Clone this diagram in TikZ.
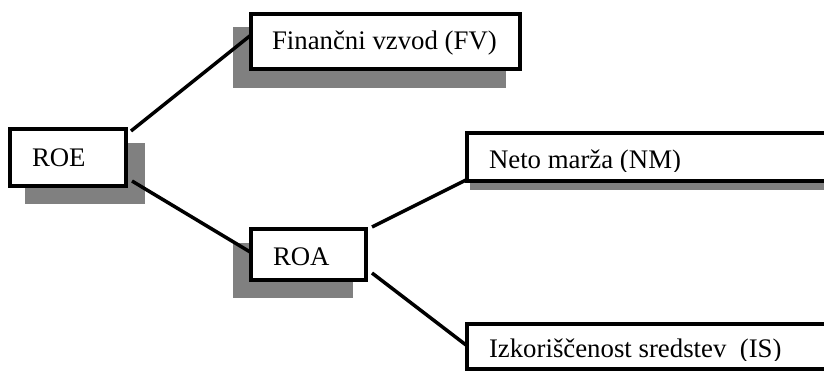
\documentclass[tikz,border=0pt]{standalone}
\usepackage{fontspec}
\setmainfont{Liberation Serif}
\usetikzlibrary{calc}
\definecolor{shadowgray}{RGB}{128,128,128}
\begin{document}
\begin{tikzpicture}[x=1pt,y=-1pt,
  box/.style={rectangle, draw=black, fill=white, line width=4.5pt, inner sep=0pt, outer sep=0pt},
  lbl/.style={anchor=base west, inner sep=0pt, outer sep=0pt, font=\fontsize{26.8}{30}\selectfont},
  link/.style={draw=black, line width=3.5pt},
  shadowbox/.style={fill=shadowgray}]
\clip (0,0) rectangle (824,372);
\fill[white] (0,0) rectangle (824,372);
% shadows
\fill[shadowbox] (233,27) rectangle (506,88);
\fill[shadowbox] (25,143) rectangle (145,204);
\fill[shadowbox] (233,243) rectangle (353,298);
\fill[shadowbox] (470,140) rectangle (860,190);
% boxes
\node[box, minimum width=269pt, minimum height=55pt] (fv) at (385.5,41.5) {};
\node[box, minimum width=116pt, minimum height=57pt] (roe) at (68,157.5) {};
\node[box, minimum width=115pt, minimum height=51pt] (roa) at (308.5,254.5) {};
\node[box, minimum width=393pt, minimum height=48pt] (nm) at (663.5,157) {};
\node[box, minimum width=393pt, minimum height=45pt] (is) at (663.5,346.5) {};
% texts
\node[lbl] (fvt) at (272,49) {Finančni vzvod (FV)};
\node[lbl] (roet) at (32,166) {ROE};
\node[lbl] (roat) at (273,265) {ROA};
\begin{scope}
\clip (469,135) rectangle (824,171);
\node[lbl] (nmt) at (489,168) {Neto marža (NM)};
\end{scope}
\begin{scope}
\clip (469,326) rectangle (824,360);
\node[lbl] (ist) at (489,357) {Izkoriščenost sredstev\ \ (IS)};
\end{scope}
% connectors
\draw[link] ($(roe.north east)+(5,2)$) -- ($(fv.west)+(0,-6.5)$);
\draw[link] ($(roe.south east)+(6,-5)$) -- ($(roa.west)+(0,-2)$);
\draw[link] ($(roa.north east)+(6,-2)$) -- ($(nm.south west)+(-1,-1)$);
\draw[link] ($(roa.south east)+(6,-7)$) -- ($(is.west)+(-1,-1.5)$);
\end{tikzpicture}
\end{document}
